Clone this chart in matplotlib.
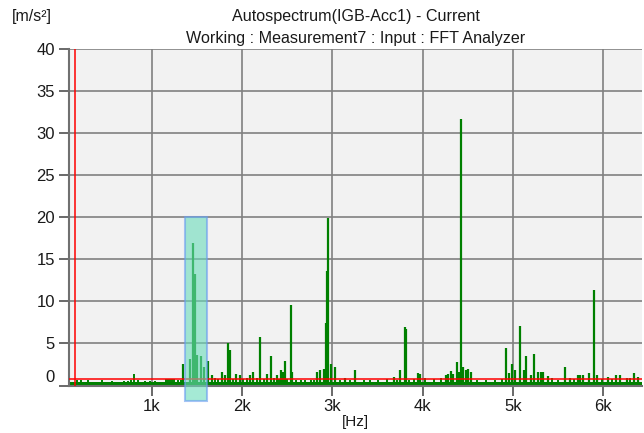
import matplotlib
matplotlib.use("Agg")
import matplotlib.pyplot as plt
from matplotlib.patches import Rectangle
from matplotlib.transforms import ScaledTranslation

plt.rcParams['font.family'] = ['Liberation Sans', 'DejaVu Sans']

# spectrum peaks (Hz, m/s^2)
peak_freqs = [1350, 1424, 1457, 1479, 1505, 1546, 1575, 1627, 1667, 1778, 1811,
              1841, 1870, 1933, 1977, 2085, 2125, 2202, 2280, 2324, 2383, 2428,
              2450, 2479, 2539, 2557, 2830, 2863, 2907, 2926, 2941, 2952, 2985,
              3026, 3144, 3254, 3679, 3749, 3801, 3815, 3952, 3965, 4258, 4280,
              4313, 4340, 4377, 4400, 4421, 4450, 4480, 4505, 4535, 4922, 4959,
              4992, 5025, 5077, 5118, 5144, 5196, 5229, 5277, 5310, 5332, 5387,
              5572, 5631, 5720, 5742, 5778, 5841, 5897, 5927, 6055, 6140, 6184,
              6259, 6340, 6384]
peak_vals = [2.5, 3.1, 16.9, 13.3, 3.6, 3.5, 2.2, 2.9, 1.2, 1.6, 1.3,
             5.1, 4.2, 1.4, 1.2, 1.3, 1.6, 5.8, 1.4, 3.5, 1.2, 1.9,
             1.6, 2.9, 9.6, 1.6, 1.6, 1.8, 2.0, 7.4, 13.6, 19.9, 2.6,
             2.2, 0.9, 1.8, 1.0, 1.8, 6.9, 6.7, 1.5, 1.4, 1.3, 1.4,
             1.7, 1.4, 2.8, 1.6, 31.6, 2.2, 1.8, 2.0, 1.6, 4.5, 1.5,
             2.6, 1.8, 7.1, 1.8, 3.5, 1.2, 3.8, 1.6, 1.6, 1.6, 1.1,
             2.2, 0.9, 1.3, 1.3, 1.3, 1.5, 11.4, 1.3, 1.0, 1.3, 1.3,
             0.9, 1.5, 1.0]

# small bumps sitting on the noise floor
bump_freqs = [173, 217, 298, 453, 564, 693, 737, 767, 804, 845, 926, 981, 1036,
              1158, 1180, 1202, 1225, 1247, 1291, 1324, 1700, 1730, 1900, 2010,
              2050, 2160, 2240, 2350, 2410, 2500, 2600, 2650, 2700, 2760, 2800,
              3080, 3200, 3350, 3420, 3500, 3600, 3720, 3850, 3900, 4030, 4120,
              4200, 4600, 4700, 4800, 4880, 5430, 5500, 5680, 5980, 6100, 6300]
bump_vals = [0.6, 0.6, 0.65, 0.6, 0.55, 0.5, 0.5, 0.65, 1.37, 0.6, 0.55, 0.55, 0.55,
             0.8, 0.8, 0.8, 0.75, 0.8, 0.65, 0.7, 0.9, 0.8, 0.8, 0.8,
             0.9, 0.9, 0.8, 0.9, 0.8, 0.8, 0.7, 0.7, 0.65, 0.6, 0.7,
             0.7, 0.6, 0.7, 0.6, 0.6, 0.8, 0.7, 0.7, 0.8, 0.9, 0.8,
             0.9, 0.7, 0.6, 0.7, 0.8, 0.9, 0.7, 0.8, 0.8, 0.8, 0.9]

floor_level = 0.45
ref_level = 0.81
cursor_freq = 154
band = (1370, 1610, 20)

x_ticks = [1000, 2000, 3000, 4000, 5000, 6000]
x_labels = ['1k', '2k', '3k', '4k', '5k', '6k']
y_ticks = [0, 5, 10, 15, 20, 25, 30, 35, 40]

W, H = 644, 433
fig = plt.figure(figsize=(W / 100, H / 100), dpi=100)
ax = fig.add_axes([69 / W, 1 - 385.5 / H, (642 - 69) / W, (385.5 - 48.7) / H])
ax.set_facecolor('#f2f2f2')
ax.set_xlim(84, 6428)
ax.set_ylim(0, 40)

ax.set_xticks(x_ticks)
ax.set_xticklabels(x_labels)
ax.set_yticks(y_ticks)
ax.grid(True, color='#808080', linewidth=1.2)
ax.set_axisbelow(True)
for s in ['top', 'right']:
    ax.spines[s].set_visible(False)
for s in ['left', 'bottom']:
    ax.spines[s].set_color('#707070')
    ax.spines[s].set_linewidth(1.5)
ax.tick_params(length=7, width=1.2, color='#505050', labelsize=12, pad=3,
               labelcolor='#1a1a1a')

# shift the 0 label up like the original
lab0 = ax.get_yticklabels()[0]
lab0.set_transform(lab0.get_transform() + ScaledTranslation(0, 7 / 72, fig.dpi_scale_trans))

ax.fill_between([84, 6428], 0, floor_level, color='#008000', linewidth=0, zorder=2)
ax.vlines(bump_freqs, 0, bump_vals, color='#008000', linewidth=1.4, zorder=2)
ax.vlines(peak_freqs, 0, peak_vals, color='#008000', linewidth=1.6, zorder=2)

ax.axhline(ref_level, color='#ff0000', linewidth=1.1, zorder=3)
ax.axvline(cursor_freq, color='#ff0000', linewidth=1.1, zorder=3)

lo, hi, top = band
ax.add_patch(Rectangle((lo, -1.84), hi - lo, top + 1.84, facecolor='#6adcba',
                       alpha=0.6, edgecolor='#6a9cf0', linewidth=1.5,
                       clip_on=False, zorder=4))

fig.text(355.5 / W, 1 - 17 / H, 'Autospectrum(IGB-Acc1) - Current',
         ha='center', va='center', fontsize=11.6, color='#1a1a1a')
fig.text(356 / W, 1 - 39 / H, 'Working : Measurement7 : Input : FFT Analyzer',
         ha='center', va='center', fontsize=11.6, color='#1a1a1a')
fig.text(12 / W, 1 - 16 / H, '[m/s²]', ha='left', va='center', fontsize=11.5,
         color='#1a1a1a')
fig.text(355 / W, 1 - 422 / H, '[Hz]', ha='center', va='center', fontsize=11,
         color='#1a1a1a')

fig.savefig('out.png', dpi=100)
